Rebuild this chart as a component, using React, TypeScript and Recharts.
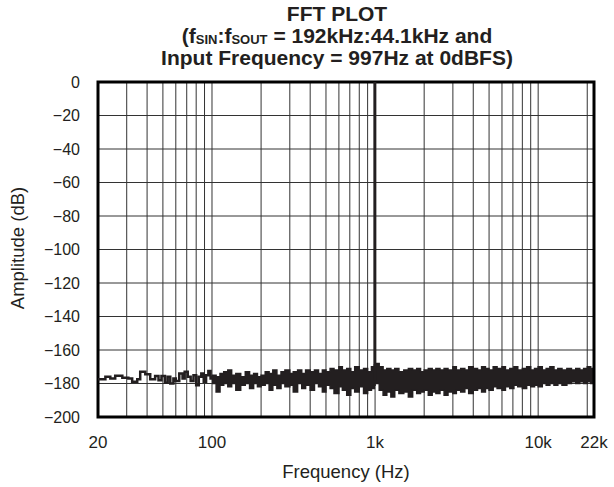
import React from "react";
import {
  ComposedChart,
  Line,
  Area,
  XAxis,
  YAxis,
  CartesianGrid,
  ReferenceArea,
} from "recharts";

// low-frequency part of the noise floor (thin stepped trace)
const floorFreq = [
  20, 22.2, 23.8, 25.5, 28.2, 30.7, 32.4, 34.8, 36.3, 39, 41.8, 44.8, 47, 49,
  51.5, 53.5, 55.5, 58, 60, 63, 66, 68, 71, 74, 77, 80, 83, 86, 89, 92, 95, 98,
  101, 104,
];
const floorDb = [
  -177.5, -176, -177, -175.3, -176.5, -177, -179, -177.5, -173, -174.5, -177.5,
  -175.5, -178, -175.5, -179.5, -176, -180, -177, -178.5, -174, -177, -173,
  -176, -178.5, -175, -181, -176, -174, -179, -175, -172.5, -177, -176, -178.5,
];

// dense part of the noise floor, min / max per frequency
const bandFreq = [
  100, 106, 112, 118, 125, 132, 140, 150, 160, 170, 180, 190, 200, 212, 224,
  236, 250, 265, 280, 300, 315, 335, 355, 375, 400, 425, 450, 475, 500, 530,
  560, 600, 630, 670, 710, 750, 800, 850, 900, 950, 990, 1000, 1060, 1120, 1180,
  1250, 1320, 1400, 1500, 1600, 1700, 1800, 1900, 2000, 2120, 2240, 2360, 2500,
  2650, 2800, 3000, 3150, 3350, 3550, 3750, 4000, 4250, 4500, 4750, 5000, 5300,
  5600, 6000, 6300, 6700, 7100, 7500, 8000, 8500, 9000, 9500, 10000, 10600,
  11200, 11800, 12500, 13200, 14000, 15000, 16000, 17000, 18000, 19000, 20000,
  21000, 22000,
];
const bandLow = [
  -180, -185, -181, -180, -182, -180, -184, -181, -180, -183, -180, -182, -181,
  -180, -184, -181, -183, -180, -182, -181, -185, -180, -183, -181, -184, -180,
  -182, -185, -181, -183, -186, -182, -184, -187, -183, -185, -182, -186, -184,
  -183, -181, -180, -184, -187, -185, -188, -184, -186, -185, -188, -184, -186,
  -185, -184, -187, -185, -186, -184, -187, -185, -186, -184, -185, -183, -186,
  -184, -183, -185, -183, -184, -182, -183, -184, -182, -183, -181, -182, -183,
  -181, -182, -181, -182, -180, -181, -180, -181, -180, -181, -180, -179, -180,
  -179, -180, -179, -180, -179,
];
const bandHigh = [
  -175, -176, -174, -173, -172, -175, -174, -176, -173, -175, -174, -176, -175,
  -173, -174, -172, -175, -173, -172, -174, -173, -172, -174, -172, -173, -172,
  -174, -172, -173, -171, -172, -170, -172, -171, -173, -170, -172, -171, -173,
  -170, -169, -168, -170, -172, -171, -172, -171, -173, -172, -171, -172, -171,
  -173, -172, -171, -172, -171, -172, -171, -172, -170, -172, -171, -172, -170,
  -171, -172, -170, -171, -172, -170, -171, -170, -172, -171, -170, -172, -171,
  -170, -172, -171, -170, -172, -171, -170, -172, -171, -172, -171, -172, -171,
  -172, -171, -170, -171, -171,
];

// the 997Hz tone
const spikeFreq = [997, 997];
const spikeDb = [-178, 0];

const gridFreqs = [
  20, 30, 40, 50, 60, 70, 80, 90, 100, 200, 300, 400, 500, 600, 700, 800, 900,
  1000, 2000, 3000, 4000, 5000, 6000, 7000, 8000, 9000, 10000, 20000, 22000,
];
const freqLabels: Record<number, string> = {
  20: "20",
  100: "100",
  1000: "1k",
  10000: "10k",
  22000: "22k",
};
const dbTicks = [0, -20, -40, -60, -80, -100, -120, -140, -160, -180, -200];

const floorData = floorFreq.map((f, i) => ({ f, db: floorDb[i] }));
const bandData = bandFreq.map((f, i) => ({ f, range: [bandLow[i], bandHigh[i]] }));
const spikeData = spikeFreq.map((f, i) => ({ f, db: spikeDb[i] }));

const ink = "#231f20";
const font = "'Liberation Sans', Arial, Helvetica, sans-serif";
const sub = { fontSize: 13, position: "relative" as const, top: 1, lineHeight: "13px" };

const App = () => {
  return (
    <div style={{ position: "absolute", left: 0, top: 0, width: 614, height: 487, background: "#fff", fontFamily: font }}>
      <div
        style={{
          position: "absolute",
          left: 87,
          top: 3,
          width: 500,
          textAlign: "center",
          fontWeight: "bold",
          fontSize: 21,
          lineHeight: "22px",
          color: ink,
        }}
      >
        <div>FFT PLOT</div>
        <div>
          (f<span style={sub}>SIN</span>:f<span style={sub}>SOUT</span> = 192kHz:44.1kHz and
        </div>
        <div>Input Frequency = 997Hz at 0dBFS)</div>
      </div>

      <ComposedChart width={614} height={487} margin={{ top: 82, right: 20, bottom: 0, left: 0 }}>
        <CartesianGrid stroke="#333" strokeWidth={1} />
        <XAxis
          dataKey="f"
          type="number"
          scale="log"
          domain={[20, 22000]}
          allowDataOverflow
          ticks={gridFreqs}
          interval={0}
          height={70}
          tickLine={false}
          axisLine={false}
          tickMargin={13}
          tickFormatter={(v: number) => freqLabels[v] ?? ""}
          tick={{ fontSize: 17, fill: ink, fontFamily: font }}
        />
        <YAxis
          type="number"
          domain={[-200, 0]}
          ticks={dbTicks}
          interval={0}
          width={98}
          tickLine={false}
          axisLine={false}
          tickMargin={12}
          tickFormatter={(v: number) => (v === 0 ? "0" : `\u2212${Math.abs(v)}`)}
          tick={{ fontSize: 16, fill: ink, fontFamily: font }}
        />
        <Area
          data={bandData}
          dataKey="range"
          type="stepAfter"
          stroke={ink}
          strokeWidth={1.5}
          fill={ink}
          fillOpacity={1}
          isAnimationActive={false}
        />
        <Line
          data={floorData}
          dataKey="db"
          type="stepAfter"
          stroke={ink}
          strokeWidth={2.5}
          dot={false}
          isAnimationActive={false}
        />
        <Line
          data={spikeData}
          dataKey="db"
          type="linear"
          stroke={ink}
          strokeWidth={3}
          dot={false}
          isAnimationActive={false}
        />
        <ReferenceArea
          x1={20}
          x2={22000}
          y1={-200}
          y2={0}
          fill="none"
          stroke="#000"
          strokeWidth={3}
          ifOverflow="visible"
        />
      </ComposedChart>

      <div
        style={{
          position: "absolute",
          left: 246,
          top: 462,
          width: 200,
          textAlign: "center",
          fontSize: 18.5,
          lineHeight: "20px",
          color: ink,
        }}
      >
        Frequency (Hz)
      </div>
      <div
        style={{
          position: "absolute",
          left: -82,
          top: 238,
          width: 200,
          height: 20,
          textAlign: "center",
          fontSize: 18.5,
          lineHeight: "20px",
          color: ink,
          transform: "rotate(-90deg)",
        }}
      >
        Amplitude (dB)
      </div>
    </div>
  );
};

export default App;
